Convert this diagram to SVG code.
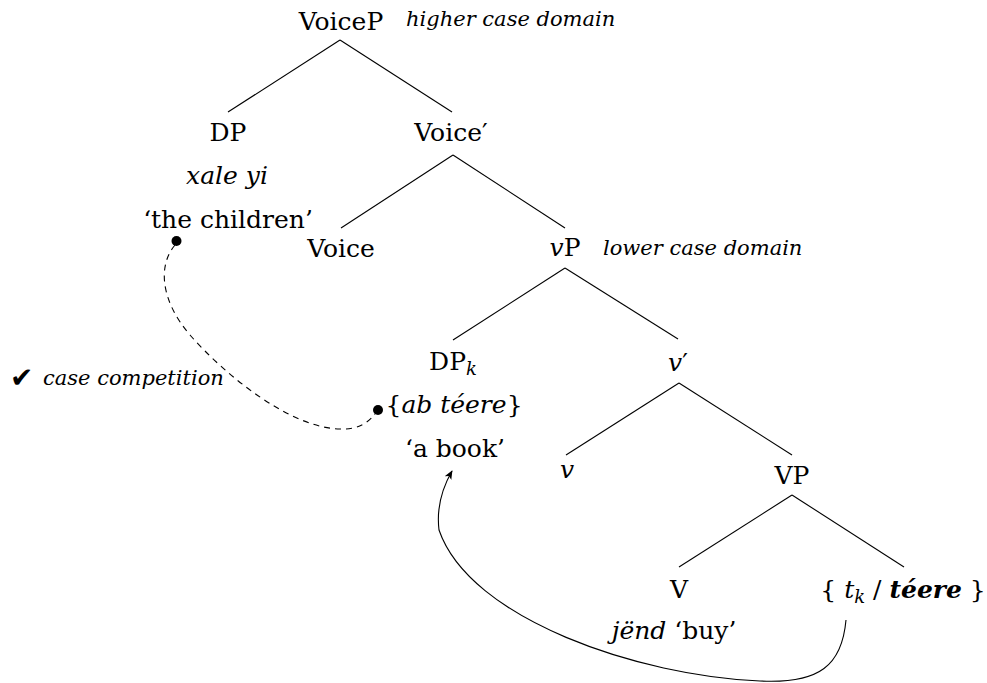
<svg xmlns="http://www.w3.org/2000/svg" width="987" height="683" viewBox="0 0 987 683">
<style>
text{font-family:"DejaVu Serif","Liberation Serif",serif;font-size:25px;fill:#000}
.c{text-anchor:middle}
.i{font-style:italic}
.lab{font-style:italic;font-size:21px}
.sub{font-style:italic;font-size:18px}
.bi{font-style:italic;font-weight:bold}
.chk{font-family:"DejaVu Sans",sans-serif;font-size:28px}
.edge{stroke:#000;stroke-width:1.1;fill:none}
.dash{stroke:#000;stroke-width:1.1;fill:none;stroke-dasharray:6 5}
.dot{fill:#000}
</style>
<defs>
<marker id="arr" viewBox="0 0 10 10" refX="9" refY="5" markerWidth="9" markerHeight="9" markerUnits="userSpaceOnUse" orient="auto">
<path d="M0,0.8 L10,5 L0,9.2 L2.5,5 Z" fill="#000"/>
</marker>
</defs>
<rect width="987" height="683" fill="#fff"/>
<g id="connectors">
<line class="edge" x1="340" y1="40" x2="228" y2="112"/>
<line class="edge" x1="340" y1="40" x2="452" y2="112"/>
<line class="edge" x1="453" y1="155" x2="341" y2="228"/>
<line class="edge" x1="453" y1="155" x2="565" y2="228"/>
<line class="edge" x1="565" y1="268" x2="453" y2="340"/>
<line class="edge" x1="565" y1="268" x2="678" y2="339"/>
<line class="edge" x1="679" y1="383" x2="566" y2="455"/>
<line class="edge" x1="679" y1="383" x2="792" y2="455"/>
<line class="edge" x1="792" y1="495" x2="679" y2="567"/>
<line class="edge" x1="792" y1="495" x2="904" y2="567"/>
<path class="dash" d="M175,245 C158,265 160,300 190,335 C225,375 290,428 340,429 C358,430 369,422 375,414"/>
<circle class="dot" cx="176.5" cy="241" r="5"/>
<circle class="dot" cx="378" cy="410" r="5"/>
<path class="edge" marker-end="url(#arr)" d="M846,620 C842,665 820,684 760,681 C640,676 470,620 439,530 C436,505 444,485 452,471"/>
</g>
<g id="n-voicep"><text class="c" x="341" y="30">VoiceP</text></g>
<g id="lab-higher"><text class="lab" x="406" y="26">higher case domain</text></g>
<g id="n-dp"><text class="c" x="228" y="141">DP</text>
<text class="c i" x="227" y="184">xale yi</text>
<text class="c" x="228" y="228">‘the children’</text></g>
<g id="n-voicebar"><text class="c" x="451" y="141">Voice′</text></g>
<g id="n-voice"><text class="c" x="341" y="257">Voice</text></g>
<g id="n-vp"><text class="c" x="565" y="256"><tspan class="i">v</tspan>P</text></g>
<g id="lab-lower"><text class="lab" x="603" y="255">lower case domain</text></g>
<g id="n-dpk"><text class="c" x="453" y="370">DP<tspan class="sub" dy="5">k</tspan></text>
<text class="c" x="454" y="413">{<tspan class="i">ab téere</tspan>}</text>
<text class="c" x="455" y="457">‘a book’</text></g>
<g id="n-vbar"><text class="c" x="678" y="371"><tspan class="i">v</tspan>′</text></g>
<g id="n-v"><text class="c i" x="567" y="478">v</text></g>
<g id="n-VP"><text class="c" x="792" y="484">VP</text></g>
<g id="n-V"><text class="c" x="679" y="598">V</text>
<text class="c" x="674" y="639"><tspan class="i">jënd</tspan> ‘buy’</text></g>
<g id="n-tk"><text class="c" x="903" y="598">{ <tspan class="i">t</tspan><tspan class="sub" dy="5">k</tspan><tspan dy="-5"> / </tspan><tspan class="bi">téere</tspan> }</text></g>
<g id="lab-case"><text x="10" y="387"><tspan class="chk">✔</tspan><tspan class="lab" x="43" y="385">case competition</tspan></text></g>
</svg>
